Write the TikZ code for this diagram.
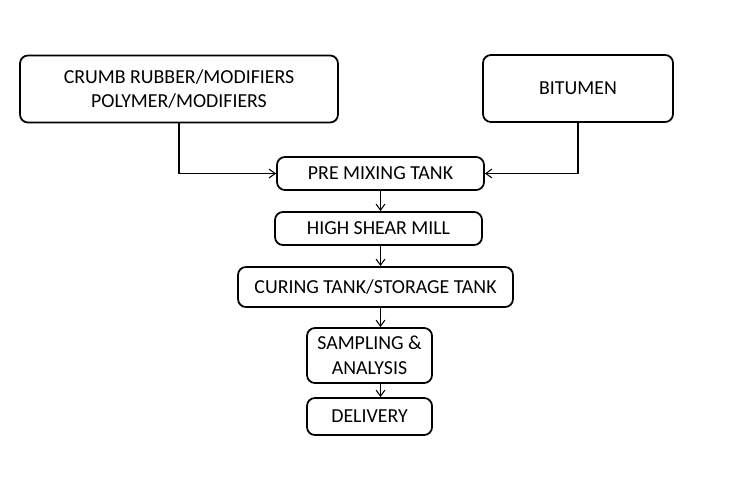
\documentclass[tikz,border=0pt]{standalone}
\usepackage{fontspec}
\setmainfont{Carlito}
\usetikzlibrary{arrows.meta}

\begin{document}
\begin{tikzpicture}[x=0.02cm,y=-0.02cm]
        \tikzstyle{stagenode}=[
            rectangle,
            rounded corners=4.5pt,
            draw=black,
            line width=1pt,
            align=center,
            inner sep=0pt,
            font=\fontsize{11.3}{14}\selectfont,
            text=black
        ]
        \tikzstyle{flowline}=[
            -{Straight Barb[length=3.5pt,width=5pt]},
            line width=0.6pt
        ]
        \useasboundingbox (0,0) rectangle (732,500);

        \node[stagenode, minimum width=6.36cm, minimum height=1.34cm] (crumb) at (179,89){CRUMB RUBBER/MODIFIERS\\POLYMER/MODIFIERS};
        \node[stagenode, minimum width=3.8cm, minimum height=1.34cm] (bitumen) at (578,88.5){BITUMEN};
        \node[stagenode, minimum width=4.14cm, minimum height=0.66cm] (premix) at (380.5,173.5){PRE MIXING TANK};
        \node[stagenode, minimum width=4.14cm, minimum height=0.66cm] (shear) at (378.5,228.5){HIGH SHEAR MILL};
        \node[stagenode, minimum width=5.5cm, minimum height=0.8cm] (curing) at (375.5,287){CURING TANK/STORAGE TANK};
        \node[stagenode, minimum width=2.5cm, minimum height=1.1cm] (sampling) at (369.5,355.5){SAMPLING \&\\ANALYSIS};
        \node[stagenode, minimum width=2.5cm, minimum height=0.74cm] (delivery) at (369.5,416.5){DELIVERY};

        \draw[flowline] (crumb.south) |- (premix.west);
        \draw[flowline] (bitumen.south) |- (premix.east);
        \draw[flowline] (premix.south) -- (premix.south |- shear.north);
        \draw[flowline] (shear.south -| premix.south) -- (curing.north -| premix.south);
        \draw[flowline] (curing.south -| premix.south) -- (sampling.north -| premix.south);
        \draw[flowline] (sampling.south -| premix.south) -- (delivery.north -| premix.south);

    \end{tikzpicture}
\end{document}
